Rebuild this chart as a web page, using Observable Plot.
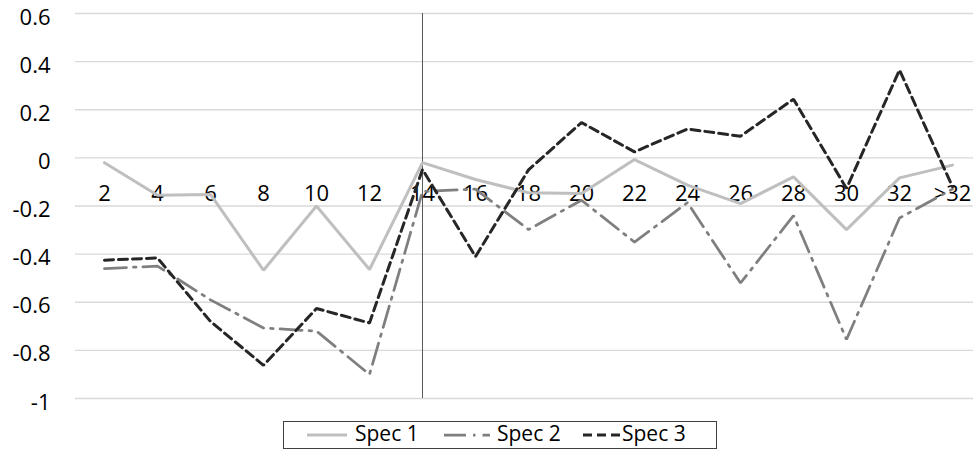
<!DOCTYPE html>
<html>
<head>
<meta charset="utf-8">
<script src="https://cdn.jsdelivr.net/npm/d3@7"></script>
<script src="https://cdn.jsdelivr.net/npm/@observablehq/plot@0.6"></script>
<style>
  html, body { margin: 0; padding: 0; background: white; }
  #wrap { position: relative; width: 973px; height: 470px; font-family: "Open Sans", sans-serif; }
  #legend { position: absolute; left: 283px; top: 421px; overflow: visible; }
</style>
</head>
<body>
<div id="wrap"></div>
<script>
const categories = ["2","4","6","8","10","12","14","16","18","20","22","24","26","28","30","32",">32"];
const spec1 = [-0.02,-0.155,-0.152,-0.467,-0.20,-0.464,-0.02,-0.09,-0.145,-0.148,-0.007,-0.113,-0.19,-0.079,-0.298,-0.083,-0.03];
const spec2 = [-0.46,-0.45,-0.59,-0.707,-0.72,-0.90,-0.14,-0.13,-0.298,-0.176,-0.35,-0.186,-0.52,-0.24,-0.755,-0.25,-0.13];
const spec3 = [-0.425,-0.416,-0.68,-0.862,-0.626,-0.686,-0.048,-0.41,-0.05,0.147,0.025,0.12,0.09,0.244,-0.127,0.365,-0.12];
const seriesNames = ["Spec 1","Spec 2","Spec 3"];
const yTicks = [0.6,0.4,0.2,0,-0.2,-0.4,-0.6,-0.8,-1];
const yTickLabels = ["0.6","0.4","0.2","0","-0.2","-0.4","-0.6","-0.8","-1"];
const dividerCategory = "14";

const styles = {
  "Spec 1": {stroke: "#bfbfbf", strokeWidth: 3, dash: null},
  "Spec 2": {stroke: "#7f7f7f", strokeWidth: 2.75, dash: "22,7,2.5,7"},
  "Spec 3": {stroke: "#262626", strokeWidth: 3, dash: "9,5"}
};

const rows = (vals) => categories.map((c, i) => ({cat: c, value: vals[i]}));
const data = {"Spec 1": rows(spec1), "Spec 2": rows(spec2), "Spec 3": rows(spec3)};

const chart = Plot.plot({
  width: 973,
  height: 420,
  marginLeft: 75,
  marginRight: 0,
  marginTop: 13,
  marginBottom: 22,
  style: {fontFamily: "'Open Sans', sans-serif", fontSize: "22px", background: "white", color: "black", overflow: "visible"},
  x: {type: "point", domain: categories, range: [101.7, 955], padding: 0, axis: null},
  y: {domain: [-1, 0.6], axis: null},
  marks: [
    Plot.ruleY(yTicks, {stroke: "#d9d9d9", strokeWidth: 1.3}),
    Plot.axisY({ticks: yTicks, tickSize: 0, tickPadding: 25, dy: 4, fontSize: 22, label: null,
      tickFormat: d => yTickLabels[yTicks.indexOf(d)]}),
    Plot.ruleX([dividerCategory], {x: d => d, y1: -1, y2: 0.6, stroke: "#595959", strokeWidth: 1}),
    Plot.text(categories, {x: d => d, y: 0, dy: 36, fill: "black", fontSize: 22}),
    ...seriesNames.map(name => Plot.line(data[name], {
      x: "cat", y: "value",
      stroke: styles[name].stroke,
      strokeWidth: styles[name].strokeWidth,
      strokeDasharray: styles[name].dash,
      strokeLinejoin: "miter"
    }))
  ]
});
document.getElementById("wrap").appendChild(chart);

// Legend below the SVG
const lg = d3.select("#wrap").append("svg").attr("id", "legend")
  .attr("width", 434).attr("height", 34);
lg.append("rect").attr("x", 0.5).attr("y", 0.5).attr("width", 433).attr("height", 27)
  .attr("fill", "white").attr("stroke", "#404040").attr("stroke-width", 1);
const legendPos = [{x1: 24, x2: 64, tx: 72}, {x1: 161, x2: 207, tx: 214}, {x1: 300, x2: 339, tx: 339}];
seriesNames.forEach((name, i) => {
  const p = legendPos[i];
  lg.append("line").attr("x1", p.x1).attr("x2", p.x2).attr("y1", 14).attr("y2", 14)
    .attr("stroke", styles[name].stroke).attr("stroke-width", styles[name].strokeWidth)
    .attr("stroke-dasharray", styles[name].dash);
  lg.append("text").attr("x", p.tx).attr("y", 13).attr("dy", "0.35em")
    .attr("font-family", "'Open Sans', sans-serif").attr("font-size", 21).attr("fill", "black")
    .text(name);
});
</script>
</body>
</html>
